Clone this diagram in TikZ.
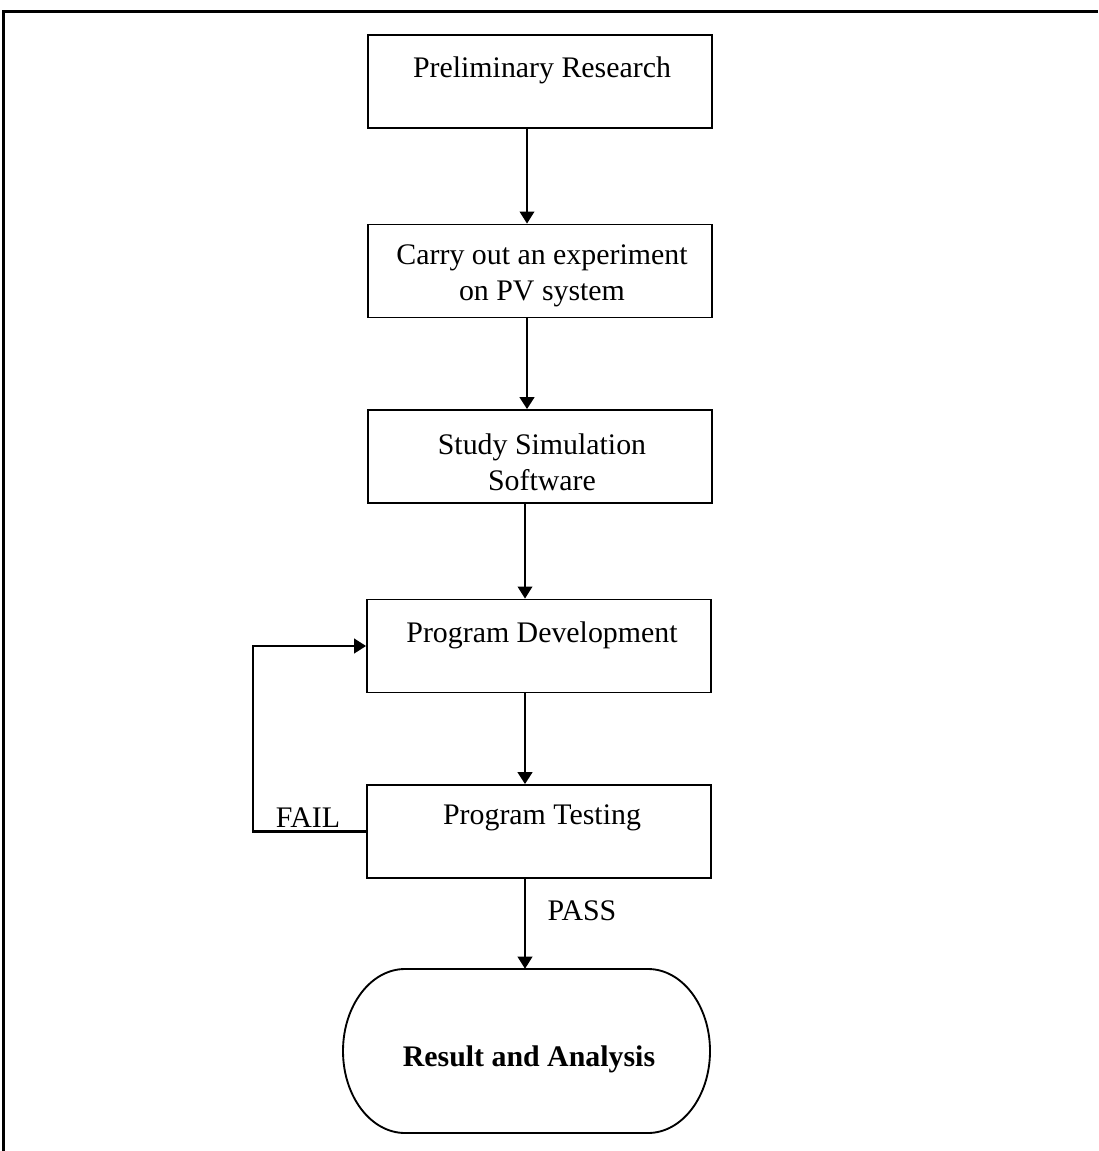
\documentclass[tikz,border=0pt]{standalone}
\usepackage{fontspec}
\setmainfont{Liberation Serif}
\usetikzlibrary{arrows.meta}
\begin{document}
\begin{tikzpicture}[x=0.75pt,y=-0.75pt,
  box/.style={draw,line width=1.4pt,minimum width=258pt,minimum height=69.75pt,inner sep=0pt},
  txt/.style={font=\fontsize{22.4}{27}\selectfont,align=center,inner sep=0pt},
  arr/.style={line width=1.1pt,-{Triangle[length=9pt,width=11pt]}},
  tarr/.style={line width=1.8pt,-{Triangle[length=9pt,width=11pt]}}]
\useasboundingbox (0,0) rectangle (1098,1151);
% frame
\draw[line width=2pt] (3.5,1151) -- (3.5,11.5) -- (1098,11.5);
% boxes
\node[box] (b1) at (540,81.5) {};
\node[box] (b2) at (540,271) {};
\node[box] (b3) at (540,456.5) {};
\node[box] (b4) at (539,646) {};
\node[box] (b5) at (539,831.5) {};
\node[minimum width=275.25pt,minimum height=123pt,inner sep=0pt] (b6) at (526.5,1051) {};
\draw[line width=1.4pt] (405,969) -- (648,969)
  .. controls (682.2,969) and (710,1005.7) .. (710,1051)
  .. controls (710,1096.3) and (682.2,1133) .. (648,1133)
  -- (405,1133)
  .. controls (370.8,1133) and (343,1096.3) .. (343,1051)
  .. controls (343,1005.7) and (370.8,969) .. (405,969) -- cycle;
% texts
\node[txt] (t1) at (542,70) {Preliminary Research};
\node[txt] (t2) at (542,276) {Carry out an experiment\\on PV system};
\node[txt] (t3) at (542,462) {Study Simulation\\Software};
\node[txt] (t4) at (542,635) {Program Development};
\node[txt] (t5) at (542,818) {Program Testing};
\node[txt,font=\fontsize{22.4}{27}\selectfont\bfseries] (t6) at (529,1059) {Result and Analysis};
\node[txt] (fail) at (308,818) {FAIL};
\node[txt] (pass) at (582,911) {PASS};
% connectors
\draw[arr] ([xshift=-9.75pt]b1.south) -- ([xshift=-9.75pt]b2.north);
\draw[tarr] ([xshift=-9.75pt]b2.south) -- ([xshift=-9.75pt]b3.north);
\draw[arr] ([xshift=-10.5pt]b4.north |- b3.south) -- ([xshift=-10.5pt]b4.north);
\draw[tarr] ([xshift=-10.5pt]b4.south) -- ([xshift=-10.5pt]b5.north);
\draw[arr] ([xshift=-10.5pt]b5.south) -- ([xshift=-10.5pt]b5.south |- b6.north);
\draw[line width=1.6pt,-{Triangle[length=9pt,width=11pt]}] (b5.west) -- ++(-113,0) |- (b4.west);
\end{tikzpicture}
\end{document}
